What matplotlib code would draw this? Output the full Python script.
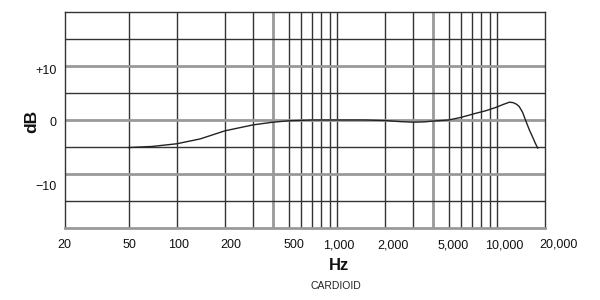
import matplotlib
matplotlib.use("Agg")
import matplotlib.pyplot as plt
from matplotlib.transforms import ScaledTranslation

plt.rcParams['font.family'] = ['Liberation Sans', 'DejaVu Sans']

# Frequency response
freq_hz = [50, 70, 100, 140, 200, 300, 400, 500, 700, 1000, 1500, 2000, 2500,
           3000, 3500, 4000, 5000, 6000, 7300, 8500, 9800, 11000, 12000, 12700,
           13300, 13800, 14500, 15100, 16000, 16700, 17400, 18000]
response_db = [-5.1, -4.9, -4.4, -3.5, -2.0, -0.9, -0.4, -0.15, 0.0, 0.0, 0.0,
               -0.1, -0.3, -0.4, -0.35, -0.2, 0.0, 0.5, 1.2, 1.7, 2.3, 2.9, 3.3,
               3.2, 2.9, 2.5, 1.4, 0.0, -1.9, -3.1, -4.3, -5.2]

# Grid
dark_vlines = [50, 100, 200, 300, 500, 600, 700, 800, 900, 1000, 2000, 3000,
               5000, 6000, 7000, 8000, 9000, 10000]
gray_vlines = [400, 4000]
dark_hlines = [15, 5, -5, -15]
gray_hlines = [10, 0, -10]

x_ticks = [20, 50, 100, 200, 500, 1000, 2000, 5000, 10000, 20000]
x_tick_labels = ["20", "50", "100", "200", "500", "1,000", "2,000", "5,000",
                 "10,000", "20,000"]
x_label_shift_px = [-1, 1, 2, 6, 5, 2, 8, 4, 7, 14]
y_ticks = [10, 0, -10]
y_tick_labels = ["+10", "0", "\u221210"]
y_label_shift_px = [-3, -1.5, -11]

fig = plt.figure(figsize=(6, 3), dpi=100)
ax = fig.add_axes([65 / 600, 72 / 300, 480 / 600, 216 / 300])
ax.set_xscale('log')
ax.set_xlim(20, 20000)
ax.set_ylim(-20, 20)

for x in dark_vlines:
    ax.axvline(x, color='#333333', lw=1.0, zorder=1)
for x in gray_vlines:
    ax.axvline(x, color='#999999', lw=2.0, zorder=1)
for y in dark_hlines:
    ax.axhline(y, color='#333333', lw=1.0, zorder=1)
for y in gray_hlines:
    ax.axhline(y, color='#999999', lw=2.0, zorder=1)

for side in ['left', 'right', 'top']:
    ax.spines[side].set_color('#333333')
    ax.spines[side].set_linewidth(1.0)
ax.spines['bottom'].set_color('#999999')
ax.spines['bottom'].set_linewidth(2.0)

ax.plot(freq_hz, response_db, color='#222222', lw=1.0, zorder=3)

ax.minorticks_off()
ax.set_xticks(x_ticks)
ax.set_xticklabels(x_tick_labels)
ax.set_yticks(y_ticks)
ax.set_yticklabels(y_tick_labels)
ax.tick_params(axis='both', length=0, labelsize=9, colors='#111111')
ax.tick_params(axis='x', pad=8)
ax.tick_params(axis='y', pad=6)

for lbl, dx in zip(ax.get_xticklabels(), x_label_shift_px):
    dy = 1 if lbl.get_text() == "20,000" else 0
    lbl.set_transform(lbl.get_transform() +
                      ScaledTranslation(dx / 100, dy / 100, fig.dpi_scale_trans))
for lbl, dy in zip(ax.get_yticklabels(), y_label_shift_px):
    lbl.set_transform(lbl.get_transform() +
                      ScaledTranslation(0, dy / 100, fig.dpi_scale_trans))

fig.text(339 / 600, 1 - 265 / 300, "Hz", ha='center', va='center',
         fontsize=12, fontweight='bold', color='#111111')
fig.text(336 / 600, 1 - 286 / 300, "CARDIOID", ha='center', va='center',
         fontsize=7.5, color='#222222')
fig.text(32 / 600, 1 - 121 / 300, "dB", ha='center', va='center',
         rotation=90, fontsize=12.5, fontweight='bold', color='#111111')

fig.savefig("out.png", dpi=100, facecolor='white')
